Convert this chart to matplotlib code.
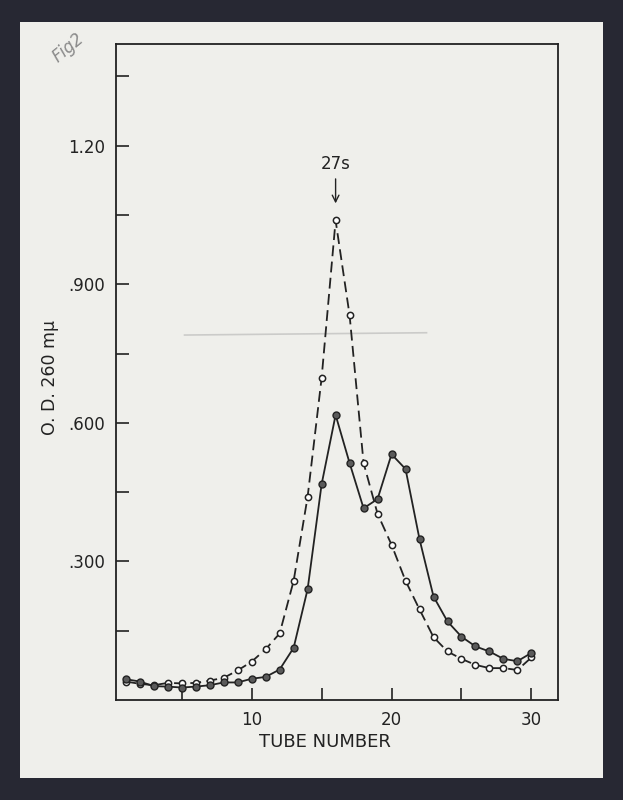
import matplotlib.pyplot as plt
from matplotlib.patches import Rectangle

# tube numbers and optical density readings
tubes = list(range(1, 31))
od_open = [0.040, 0.035, 0.032, 0.037, 0.036, 0.037, 0.042, 0.048, 0.064, 0.083,
           0.110, 0.144, 0.258, 0.440, 0.697, 1.038, 0.833, 0.513, 0.403, 0.336,
           0.258, 0.196, 0.136, 0.105, 0.089, 0.076, 0.069, 0.069, 0.065, 0.092]
od_solid = [0.045, 0.040, 0.030, 0.029, 0.027, 0.029, 0.032, 0.038, 0.038, 0.046,
            0.050, 0.066, 0.113, 0.240, 0.467, 0.617, 0.513, 0.415, 0.435, 0.532,
            0.500, 0.348, 0.224, 0.170, 0.137, 0.116, 0.105, 0.089, 0.084, 0.102]
xticks = [5, 10, 15, 20, 25, 30]
xlabels = ["", "10", "", "20", "", "30"]
yticks = [0.15, 0.30, 0.45, 0.60, 0.75, 0.90, 1.05, 1.20, 1.35]
ylabels = ["", ".300", "", ".600", "", ".900", "", "1.20", ""]

ink = "#222222"
paper = "#efefeb"

fig = plt.figure(figsize=(6.23, 8), dpi=100)
fig.patch.set_facecolor("#272833")

# the sheet of paper on the dark scanner bed
fig.patches.append(Rectangle((20 / 623, 1 - 778 / 800), 583 / 623, 756 / 800,
                             transform=fig.transFigure, facecolor=paper,
                             edgecolor="none", zorder=-5))

ax = fig.add_axes([116 / 623, 1 - 700 / 800, 442 / 623, 656 / 800])
ax.set_facecolor(paper)

ax.plot(tubes, od_open, linestyle=(0, (6, 3)), color=ink, lw=1.3,
        marker="o", markersize=4.5, markerfacecolor="white",
        markeredgecolor=ink, markeredgewidth=1.1, zorder=3)
ax.plot(tubes, od_solid, linestyle="-", color=ink, lw=1.3,
        marker="o", markersize=5, markerfacecolor="#5a5a5a",
        markeredgecolor=ink, markeredgewidth=1.0, zorder=4)

ax.set_xlim(0.3, 31.9)
ax.set_ylim(0, 1.42)
ax.set_xticks(xticks)
ax.set_xticklabels(xlabels)
ax.set_yticks(yticks)
ax.set_yticklabels(ylabels)
ax.tick_params(direction="in", length=9, width=1.2, color=ink,
               labelsize=12, labelcolor=ink, pad=8)
for s in ax.spines.values():
    s.set_color(ink)
    s.set_linewidth(1.3)

# 27s marker above the peak
ax.annotate("27s", xy=(16, 1.075), xytext=(16, 1.14),
            ha="center", va="bottom", fontsize=12, color=ink,
            arrowprops=dict(arrowstyle="->", color=ink, lw=1.0,
                            shrinkA=2, shrinkB=0))

# faint pencil streak across the sheet
ax.plot([5.2, 22.5], [0.79, 0.795], color="#a8a8a8", lw=1.2, alpha=0.5, zorder=1)

fig.text(325 / 623, 1 - 742 / 800, "TUBE NUMBER", ha="center", va="center",
         fontsize=13, color=ink)
fig.text(50 / 623, 1 - 378 / 800, "O. D. 260 m\u03bc", ha="center", va="center",
         rotation=90, fontsize=12.5, color=ink)
fig.text(68 / 623, 1 - 48 / 800, "Fig2", ha="center", va="center", rotation=40,
         fontsize=12, color="#8a8a8a", style="italic")

fig.savefig("out.png", dpi=100, facecolor=fig.get_facecolor())
